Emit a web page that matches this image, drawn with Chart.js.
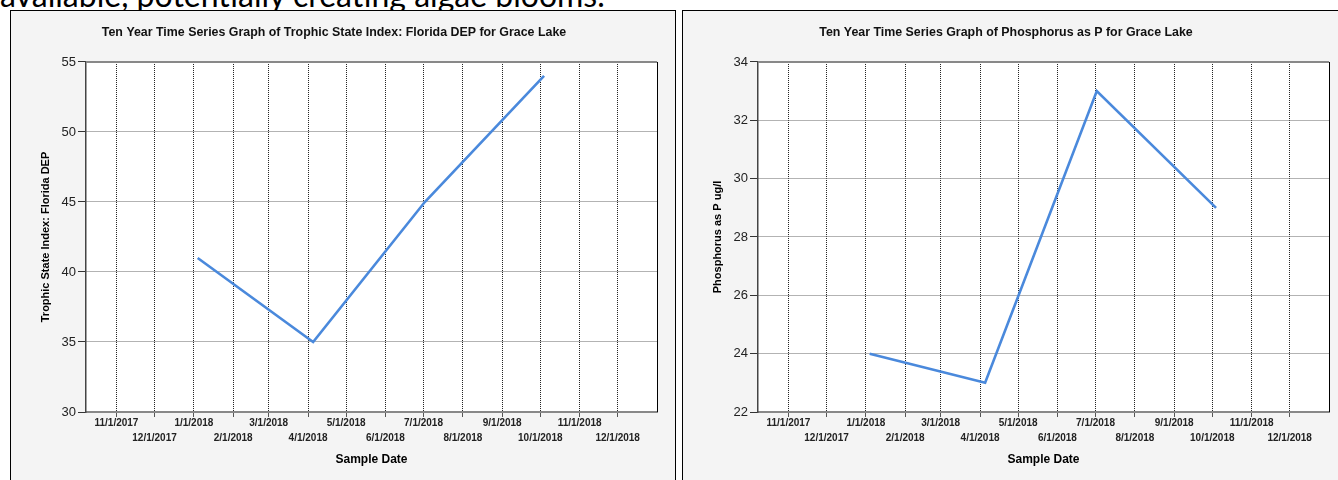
<!DOCTYPE html>
<html>
<head>
<meta charset="utf-8">
<title>Grace Lake time series</title>
<script src="https://cdn.jsdelivr.net/npm/chart.js@4.4.1/dist/chart.umd.min.js"></script>
<style>
  html, body { margin: 0; padding: 0; background: #fff; overflow: hidden; width: 1338px; height: 480px; }
  .intro { position: absolute; left: 0; top: -21px; font-family: Lato, "Open Sans", sans-serif; font-size: 32px; line-height: 1; white-space: nowrap; color: #000; }
  .box { position: absolute; top: 10px; width: 664px; height: 480px; border: 1px solid #000; background: #f4f4f4; }
  #box1 { left: 10px; }
  #box2 { left: 682px; }
  canvas { display: block; }
</style>
</head>
<body>
<div class="intro">available, potentially creating algae blooms.</div>
<div class="box" id="box1"><canvas id="tsiChart" width="664" height="480"></canvas></div>
<div class="box" id="box2"><canvas id="phosChart" width="664" height="480"></canvas></div>
<script>
// ================= DATA =================
const sampleDates = ["1/4/2018", "4/5/2018", "7/2/2018", "10/4/2018"];
const tsiValues = [41, 35, 45, 54];
const phosphorusValues = [24, 23, 33, 29];

const tickDates = [
  "11/1/2017", "12/1/2017", "1/1/2018", "2/1/2018", "3/1/2018", "4/1/2018", "5/1/2018",
  "6/1/2018", "7/1/2018", "8/1/2018", "9/1/2018", "10/1/2018", "11/1/2018", "12/1/2018"
];
const axisStart = "10/8/2017";
const axisEnd = "1/1/2019";

const tsiRange = { min: 30, max: 55, step: 5 };
const phosRange = { min: 22, max: 34, step: 2 };

// m/d/yyyy -> day number
function dayNumber(str) {
  const [m, d, y] = str.split("/").map(Number);
  return Date.UTC(y, m - 1, d) / 86400000;
}

const sampleDays = sampleDates.map(dayNumber);
const tickDays = tickDates.map(dayNumber);

Chart.defaults.font.family = "'Liberation Sans', Arial, sans-serif";

// white plot area, grey top edge, black right edge
const plotFrame = {
  id: "plotFrame",
  beforeDraw(chart) {
    const a = chart.chartArea, ctx = chart.ctx;
    ctx.save();
    ctx.fillStyle = "#fff";
    ctx.fillRect(a.left, a.top, a.right - a.left, a.bottom - a.top);
    ctx.restore();
  },
  afterDraw(chart) {
    const a = chart.chartArea, ctx = chart.ctx;
    ctx.save();
    ctx.strokeStyle = "#888";
    ctx.lineWidth = 2;
    ctx.beginPath();
    ctx.moveTo(a.left, a.top);
    ctx.lineTo(a.right, a.top);
    ctx.stroke();
    ctx.strokeStyle = "#000";
    ctx.lineWidth = 1;
    ctx.beginPath();
    ctx.moveTo(a.right + 0.5, a.top);
    ctx.lineTo(a.right + 0.5, a.bottom);
    ctx.stroke();
    ctx.restore();
  }
};

function makeChart(canvasId, titleText, yTitle, values, range) {
  const ctx = document.getElementById(canvasId).getContext("2d");
  return new Chart(ctx, {
    type: "line",
    data: {
      datasets: [{
        data: sampleDays.map((d, i) => ({ x: d, y: values[i] })),
        borderColor: "#4a89dc",
        borderWidth: 2.6,
        pointRadius: 0,
        fill: false,
        tension: 0
      }]
    },
    options: {
      responsive: false,
      animation: false,
      devicePixelRatio: 1,
      layout: { padding: { left: 0, right: 18, top: 0, bottom: 0 } },
      plugins: {
        legend: { display: false },
        tooltip: { enabled: false },
        title: {
          display: true,
          text: titleText,
          color: "#111",
          font: { size: 12.4, weight: "bold" },
          padding: { top: 14, bottom: 22.1 }
        }
      },
      scales: {
        x: {
          type: "linear",
          min: dayNumber(axisStart),
          max: dayNumber(axisEnd),
          afterBuildTicks: s => { s.ticks = tickDays.map(v => ({ value: v })); },
          afterFit: s => { s.height = 79; },
          grid: { color: "#222", lineWidth: 1, tickLength: 5, tickColor: "#555" },
          border: { color: "#888", width: 2, dash: [1, 1] },
          ticks: {
            autoSkip: false,
            maxRotation: 0,
            padding: -2,
            color: "#222",
            font: { size: 10, weight: "bold", lineHeight: 1.56 },
            callback: (v, i) => (i % 2 ? ["", tickDates[i]] : tickDates[i])
          },
          title: {
            display: true,
            text: "Sample Date",
            color: "#000",
            font: { size: 12, weight: "bold" },
            padding: { top: 0, bottom: 23.8 }
          }
        },
        y: {
          min: range.min,
          max: range.max,
          afterFit: s => { s.width = 75; },
          grid: { color: "#666", lineWidth: 1, tickLength: 8, tickColor: "#333" },
          border: { color: "#444", width: 1.5, dash: [1, 1] },
          ticks: { stepSize: range.step, padding: 2, color: "#222", font: { size: 13 } },
          title: {
            display: true,
            text: yTitle,
            color: "#000",
            font: { size: 11, weight: "bold" },
            padding: { top: 28.7, bottom: 0 }
          }
        }
      }
    },
    plugins: [plotFrame]
  });
}

makeChart("tsiChart",
  "Ten Year Time Series Graph of Trophic State Index: Florida DEP for Grace Lake",
  "Trophic State Index: Florida DEP", tsiValues, tsiRange);

makeChart("phosChart",
  "Ten Year Time Series Graph of Phosphorus as P for Grace Lake",
  "Phosphorus as P ug/l", phosphorusValues, phosRange);
</script>
</body>
</html>
